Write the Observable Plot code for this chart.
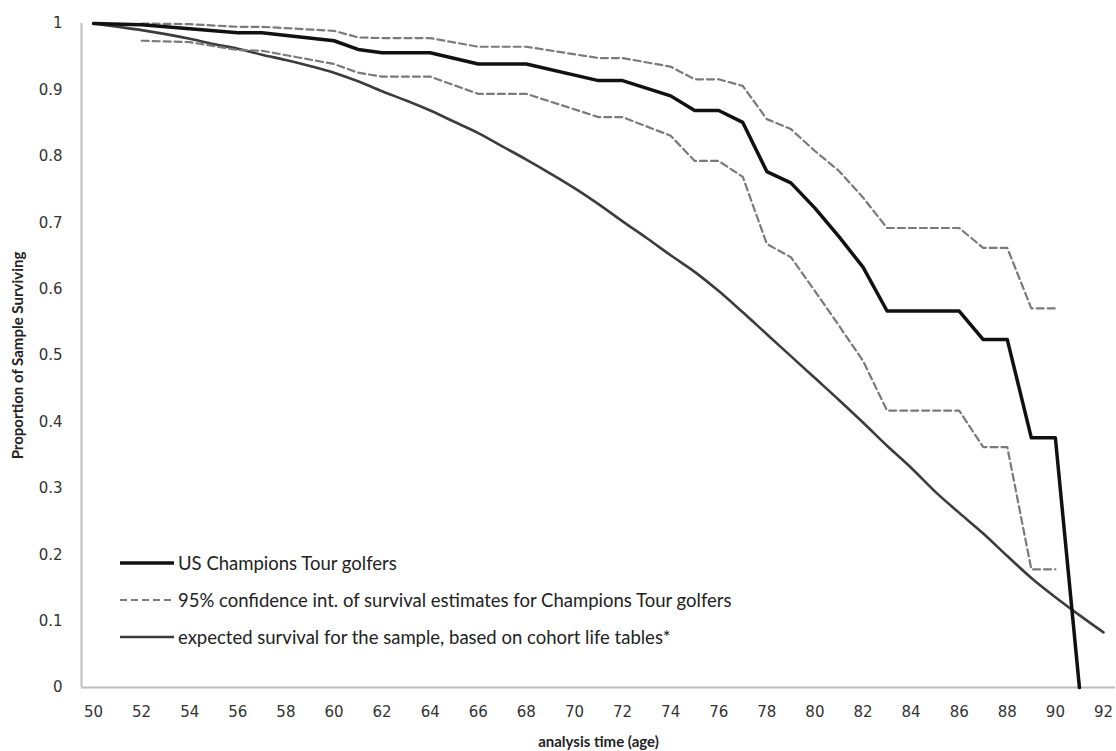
<!DOCTYPE html>
<html>
<head>
<meta charset="utf-8">
<script src="https://cdn.jsdelivr.net/npm/d3@7"></script>
<script src="https://cdn.jsdelivr.net/npm/@observablehq/plot@0.6"></script>
<style>
  body { margin: 0; background: #fff; }
  #wrap { position: relative; width: 1116px; height: 751px; }
  #legend { position: absolute; left: 120px; top: 0; font-family: Lato, "Open Sans", sans-serif; font-size: 18.5px; color: #222; }
  .row { position: absolute; left: 0; height: 22px; display: flex; align-items: center; white-space: nowrap; }
  .row svg { margin-right: 4px; }
</style>
</head>
<body>
<div id="wrap"></div>
<script>
// Kaplan–Meier survival, US Champions Tour golfers (vertices)
const kmAges   = [50, 52, 56, 57, 60, 61, 62, 64, 66, 68, 71, 72, 74, 75, 76, 77, 78, 79, 80, 81, 82, 83, 86, 87, 88, 89, 90, 91];
const kmValues = [1.000, 0.998, 0.986, 0.986, 0.974, 0.961, 0.956, 0.956, 0.939, 0.939, 0.914, 0.914, 0.891, 0.869, 0.869, 0.851, 0.777, 0.760, 0.722, 0.679, 0.633, 0.567, 0.567, 0.524, 0.524, 0.376, 0.376, 0.000];

// 95% confidence interval bounds
const upperAges   = [52, 54, 56, 57, 60, 61, 62, 64, 66, 68, 71, 72, 74, 75, 76, 77, 78, 79, 80, 81, 82, 83, 86, 87, 88, 89, 90];
const upperValues = [1.000, 0.999, 0.995, 0.995, 0.989, 0.979, 0.978, 0.978, 0.965, 0.965, 0.948, 0.948, 0.935, 0.916, 0.916, 0.906, 0.856, 0.841, 0.808, 0.778, 0.738, 0.692, 0.692, 0.662, 0.662, 0.571, 0.571];
const lowerAges   = [52, 54, 56, 57, 60, 61, 62, 64, 66, 68, 71, 72, 74, 75, 76, 77, 78, 79, 80, 81, 82, 83, 86, 87, 88, 89, 90];
const lowerValues = [0.974, 0.972, 0.960, 0.959, 0.939, 0.926, 0.920, 0.920, 0.894, 0.894, 0.859, 0.859, 0.831, 0.793, 0.793, 0.769, 0.668, 0.648, 0.597, 0.545, 0.492, 0.417, 0.417, 0.362, 0.362, 0.178, 0.178];

// Expected survival from cohort life tables
const expAges   = [50, 51, 52, 53, 54, 55, 56, 57, 58, 59, 60, 61, 62, 63, 64, 65, 66, 67, 68, 69, 70, 71, 72, 73, 74, 75, 76, 77, 78, 79, 80, 81, 82, 83, 84, 85, 86, 87, 88, 89, 90, 91, 92];
const expValues = [1.000, 0.995, 0.990, 0.984, 0.977, 0.969, 0.962, 0.953, 0.945, 0.936, 0.926, 0.913, 0.898, 0.884, 0.869, 0.852, 0.835, 0.815, 0.795, 0.774, 0.752, 0.728, 0.702, 0.677, 0.651, 0.626, 0.597, 0.565, 0.532, 0.499, 0.466, 0.433, 0.399, 0.364, 0.331, 0.295, 0.263, 0.232, 0.198, 0.165, 0.136, 0.109, 0.083];

const xTicks = [50, 52, 54, 56, 58, 60, 62, 64, 66, 68, 70, 72, 74, 76, 78, 80, 82, 84, 86, 88, 90, 92];
const yTicks = [0, 0.1, 0.2, 0.3, 0.4, 0.5, 0.6, 0.7, 0.8, 0.9, 1];
const yTickLabels = ["0", "0.1", "0.2", "0.3", "0.4", "0.5", "0.6", "0.7", "0.8", "0.9", "1"];

const seriesNames = [
  "US Champions Tour golfers",
  "95% confidence int. of survival estimates for Champions Tour golfers",
  "expected survival for the sample, based on cohort life tables*"
];
const xTitle = "analysis time (age)";
const yTitle = "Proportion of Sample Surviving";

const toRows = (a, v) => a.map((age, i) => ({age, value: v[i]}));
const km = toRows(kmAges, kmValues);
const upper = toRows(upperAges, upperValues);
const lower = toRows(lowerAges, lowerValues);
const expected = toRows(expAges, expValues);

const KM_COLOR = "#111111", CI_COLOR = "#7a7a7a", EXP_COLOR = "#3c3c3c", AXIS_COLOR = "#bdbdbd";

const chart = Plot.plot({
  width: 1116,
  height: 751,
  marginLeft: 81,
  marginRight: 1,
  marginTop: 23,
  marginBottom: 64,
  style: { fontFamily: "'DejaVu Sans', sans-serif", fontSize: "15px", color: "#333", background: "#fff" },
  x: { domain: [49.5, 92.5], ticks: xTicks, tickFormat: d => String(d), tickSize: 0, tickPadding: 19, label: null },
  y: { domain: [0, 1], ticks: yTicks, tickFormat: d => yTickLabels[yTicks.indexOf(d)], tickSize: 0, tickPadding: 19, label: null },
  marks: [
    Plot.ruleY([0], { stroke: AXIS_COLOR, strokeWidth: 2 }),
    Plot.ruleX([49.5], { stroke: AXIS_COLOR, strokeWidth: 2 }),
    Plot.line(expected, { x: "age", y: "value", stroke: EXP_COLOR, strokeWidth: 2.6, curve: "monotone-x" }),
    Plot.line(upper, { x: "age", y: "value", stroke: CI_COLOR, strokeWidth: 2.2, strokeDasharray: "7,4" }),
    Plot.line(lower, { x: "age", y: "value", stroke: CI_COLOR, strokeWidth: 2.2, strokeDasharray: "7,4" }),
    Plot.line(km, { x: "age", y: "value", stroke: KM_COLOR, strokeWidth: 3.5 }),
    Plot.text([xTitle], { frameAnchor: "bottom", dy: 59, textAnchor: "middle", fontFamily: "Lato, sans-serif", fontWeight: "bold", fontSize: 15, fill: "#222" }),
    Plot.text([yTitle], { frameAnchor: "left", dx: -63, rotate: -90, textAnchor: "middle", fontFamily: "Lato, sans-serif", fontWeight: "bold", fontSize: 15, fill: "#222" })
  ]
});

const wrap = document.getElementById("wrap");
wrap.appendChild(chart);

// Legend (inside plot area, lower left)
const legend = document.createElement("div");
legend.id = "legend";
const legendStyles = [
  { stroke: KM_COLOR, width: 3.5, dash: null },
  { stroke: CI_COLOR, width: 2.2, dash: "7,4" },
  { stroke: EXP_COLOR, width: 2.6, dash: null }
];
const rowCenters = [563, 600, 637];
seriesNames.forEach((name, i) => {
  const row = document.createElement("div");
  row.className = "row";
  row.style.top = (rowCenters[i] - 11) + "px";
  const s = legendStyles[i];
  row.innerHTML = `<svg width="54" height="22"><line x1="0" x2="54" y1="11" y2="11" stroke="${s.stroke}" stroke-width="${s.width}" ${s.dash ? `stroke-dasharray="${s.dash}"` : ""}/></svg><span>${name}</span>`;
  legend.appendChild(row);
});
wrap.appendChild(legend);
</script>
</body>
</html>
